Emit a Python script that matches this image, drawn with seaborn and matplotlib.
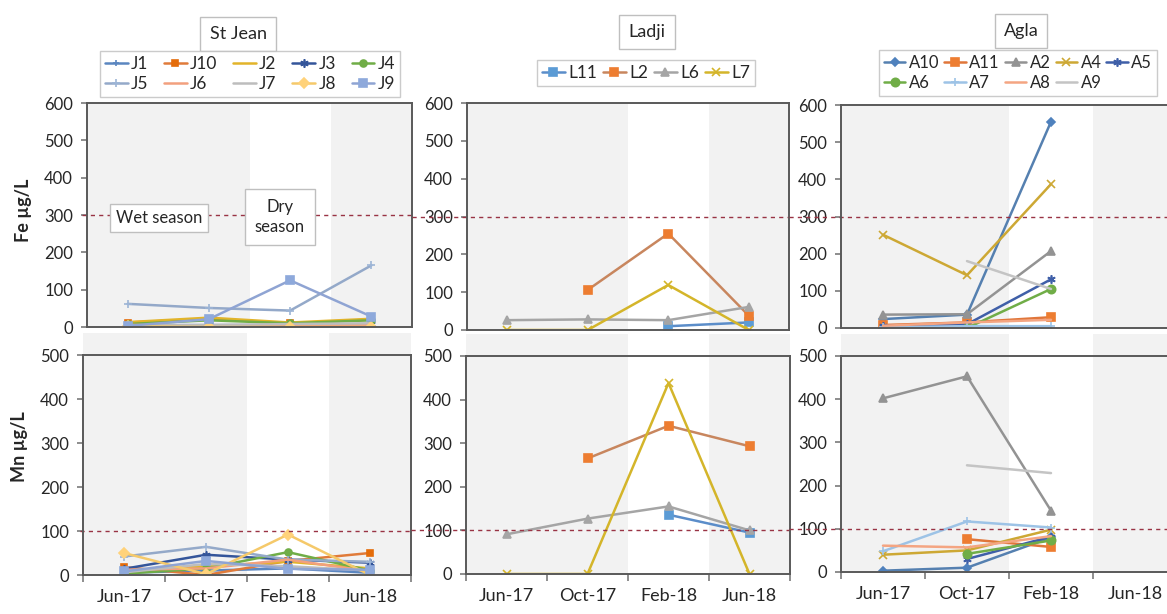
import numpy as np
import pandas as pd
import matplotlib
matplotlib.use('Agg')
import matplotlib.pyplot as plt
import seaborn as sns
from matplotlib.lines import Line2D

# Style
sns.set_theme(style='white')
plt.rcParams['font.family'] = ['Lato', 'DejaVu Sans']

# Data
campaigns = ['Jun-17', 'Oct-17', 'Feb-18', 'Jun-18']
nan = np.nan

stjean_sites = ['J1', 'J10', 'J2', 'J3', 'J4', 'J5', 'J6', 'J7', 'J8', 'J9']
stjean_fe = {
    'J1': [2, 3, 3, 4], 'J10': [12, 22, 10, 20], 'J2': [13, 25, 12, 22],
    'J3': [5, 5, 5, 8], 'J4': [8, 18, 10, 18], 'J5': [62, 51, 44, 165],
    'J6': [6, 2, 5, 6], 'J7': [4, 5, 8, 10], 'J8': [2, 0, 0, 0],
    'J9': [3, 21, 125, 28],
}
stjean_mn = {
    'J1': [5, 10, 15, 5], 'J10': [18, 0, 32, 50], 'J2': [10, 20, 30, 15],
    'J3': [14, 46, 35, 28], 'J4': [3, 15, 52, 10], 'J5': [42, 64, 35, 30],
    'J6': [12, 15, 35, 8], 'J7': [6, 25, 20, 10], 'J8': [50, 2, 92, 0],
    'J9': [8, 32, 14, 12],
}

ladji_sites = ['L11', 'L2', 'L6', 'L7']
ladji_fe = {
    'L11': [nan, nan, 10, 20], 'L2': [nan, 106, 255, 38],
    'L6': [26, 28, 26, 61], 'L7': [0, 0, 119, 0],
}
ladji_mn = {
    'L11': [nan, nan, 136, 95], 'L2': [nan, 265, 340, 293],
    'L6': [91, 127, 155, 100], 'L7': [0, 0, 438, 0],
}

agla_sites = ['A10', 'A11', 'A2', 'A4', 'A5', 'A6', 'A7', 'A8', 'A9']
agla_fe = {
    'A10': [24, 36, 555, nan], 'A11': [8, 15, 29, nan], 'A2': [36, 37, 207, nan],
    'A4': [251, 142, 387, nan], 'A5': [5, 10, 131, nan], 'A6': [nan, 0, 105, nan],
    'A7': [2, 5, 5, nan], 'A8': [6, 15, 22, nan], 'A9': [nan, 180, 105, nan],
}
agla_mn = {
    'A10': [3, 10, 80, nan], 'A11': [nan, 76, 58, nan], 'A2': [402, 453, 142, nan],
    'A4': [40, 50, 98, nan], 'A5': [nan, 30, 82, nan], 'A6': [nan, 42, 73, nan],
    'A7': [48, 117, 103, nan], 'A8': [61, 57, 83, nan], 'A9': [nan, 247, 229, nan],
}

fe_limit = 300
mn_limit = 100

# line colour, marker, marker colour, marker size
ast = (6, 2, 0)
styles = {
    'J1': ('#5B86C0', '+', '#5B86C0', 5), 'J10': ('#E07B3A', 's', '#E46C0A', 5),
    'J2': ('#E2B42A', None, '#E2B42A', 0), 'J3': ('#34559A', ast, '#34559A', 6),
    'J4': ('#70AD47', 'o', '#70AD47', 5), 'J5': ('#94A9C9', '+', '#9DB5D6', 6),
    'J6': ('#F2A07E', None, '#F2A07E', 0), 'J7': ('#BDBDBD', None, '#BDBDBD', 0),
    'J8': ('#F5C96A', 'D', '#FFD27A', 5), 'J9': ('#8FA4D3', 's', '#8EA9DB', 6),
    'L11': ('#5B8DC9', 's', '#5B9BD5', 6), 'L2': ('#C8865E', 's', '#ED7D31', 6),
    'L6': ('#A5A5A5', '^', '#A5A5A5', 6), 'L7': ('#D4B52A', 'x', '#D4B52A', 6),
    'A10': ('#5580B0', 'D', '#4F81BD', 4), 'A11': ('#E0763A', 's', '#ED7D31', 6),
    'A2': ('#939393', '^', '#939393', 6), 'A4': ('#CDA834', 'x', '#CDA834', 6),
    'A5': ('#3F5FA8', ast, '#3F5FA8', 6), 'A6': ('#70AD47', 'o', '#70AD47', 6),
    'A7': ('#9DC3E6', '+', '#9DC3E6', 6), 'A8': ('#F4A582', None, '#F4A582', 0),
    'A9': ('#C4C4C4', None, '#C4C4C4', 0),
}

W, H = 1167, 614
fig = plt.figure(figsize=(W / 100, H / 100), dpi=100)


def box(l, t, r, b):
    return [l / W, 1 - b / H, (r - l) / W, (b - t) / H]


def draw_panel(pos, sites, values, ymax, limit, ext, bottom):
    ax = fig.add_axes(box(*pos))
    top = 1.1 if bottom else 1.0
    for lo, hi in [(-0.5, 1.5), (2.5, 3.5)]:
        ax.axvspan(lo, hi, ymin=0, ymax=top, color='#F2F2F2', lw=0, zorder=0,
                   clip_on=False)
    for s in sites:
        df = pd.DataFrame({'x': range(4), 'y': values[s]}).dropna()
        lc, mk, mc, ms = styles[s]
        sns.lineplot(data=df, x='x', y='y', ax=ax, color=lc, marker=mk,
                     markersize=ms, markerfacecolor=mc, markeredgecolor=mc,
                     markeredgewidth=1.2, linewidth=1.8, zorder=3)
    ax.axhline(limit, xmin=ext, xmax=1, color='#993344', lw=1,
               dashes=(3, 3), clip_on=False, zorder=4)
    ax.set_xlim(-0.5, 3.5)
    ax.set_ylim(0, ymax)
    ax.set_yticks(range(0, ymax + 1, 100))
    ax.tick_params(axis='y', left=True, length=4, color='#808080',
                   labelsize=12, labelcolor='#262626', pad=6)
    if bottom:
        ax.set_xticks(np.arange(-0.5, 4, 1))
        ax.set_xticklabels([])
        ax.set_xticks(range(4), minor=True)
        ax.set_xticklabels(campaigns, minor=True)
        ax.tick_params(axis='x', which='major', bottom=True, length=5,
                       color='#808080')
        ax.tick_params(axis='x', which='minor', bottom=True, length=0,
                       labelsize=13, labelcolor='#262626', pad=10)
    else:
        ax.set_xticks([])
    ax.set_xlabel('')
    ax.set_ylabel('')
    ax.set_facecolor('white')
    for sp in ax.spines.values():
        sp.set_color('#595959')
        sp.set_linewidth(1.4)
        sp.set_zorder(5)
    return ax


draw_panel((87, 103, 412, 327), stjean_sites, stjean_fe, 600, fe_limit, -0.015, False)
draw_panel((467, 103, 789, 330), ladji_sites, ladji_fe, 600, fe_limit, -0.17, False)
draw_panel((841, 105, 1177, 328), agla_sites, agla_fe, 600, fe_limit, -0.155, False)
draw_panel((83, 355, 411, 575), stjean_sites, stjean_mn, 500, mn_limit, -0.01, True)
draw_panel((466, 356, 790, 574), ladji_sites, ladji_mn, 500, mn_limit, -0.17, True)
draw_panel((841, 356, 1177, 572), agla_sites, agla_mn, 500, mn_limit, -0.155, True)


def fx(x):
    return x / W


def fy(y):
    return 1 - y / H


def row_major(items, ncol):
    # matplotlib fills legends column by column; Excel fills row by row
    nrow = int(np.ceil(len(items) / ncol))
    out = []
    for c in range(ncol):
        for r in range(nrow):
            i = r * ncol + c
            if i < len(items):
                out.append(items[i])
    return out


# Titles and legends
titles = [('St Jean', 238, 34, stjean_sites, 250, 74, 5, 0.9, 12.5),
          ('Ladji', 647, 32, ladji_sites, 646, 73, 4, 0.35, 12.5),
          ('Agla', 1021, 31, agla_sites, 1018, 73, 5, 0.3, 12)]
for name, tx, ty, sites, lx, ly, ncol, cs, fs in titles:
    fig.text(fx(tx), fy(ty), name, ha='center', va='center', fontsize=13,
             color='#262626',
             bbox=dict(boxstyle='square,pad=0.5', fc='white', ec='#BFBFBF'))
    order = row_major(sites, ncol)
    handles = []
    for s in order:
        lc, mk, mc, ms = styles[s]
        handles.append(Line2D([], [], color=lc, marker=mk, mfc=mc, mec=mc,
                              ms=ms, mew=1.2, lw=1.8))
    fig.legend(handles, order, loc='center', bbox_to_anchor=(fx(lx), fy(ly)),
               ncol=ncol, fontsize=fs, frameon=True, fancybox=False,
               edgecolor='#BFBFBF', handlelength=1.3, handletextpad=0.2,
               columnspacing=cs, borderpad=0.3, labelspacing=0.25)

# Axis labels
fig.text(fx(23), fy(210), 'Fe µg/L', rotation=90, ha='center', va='center',
         fontsize=13, fontweight='bold', color='#262626')
fig.text(fx(20), fy(447), 'Mn µg/L', rotation=90, ha='center', va='center',
         fontsize=13, fontweight='bold', color='#262626')

# Season notes
fig.text(fx(159), fy(218), 'Wet season', ha='center', va='center', fontsize=12,
         color='#262626',
         bbox=dict(boxstyle='square,pad=0.35', fc='white', ec='#BFBFBF'))
fig.text(fx(280), fy(217), 'Dry\nseason', ha='center', va='center', fontsize=12,
         color='#262626', linespacing=1.3,
         bbox=dict(boxstyle='square,pad=0.6', fc='white', ec='#BFBFBF'))

fig.savefig('out.png', dpi=100)
